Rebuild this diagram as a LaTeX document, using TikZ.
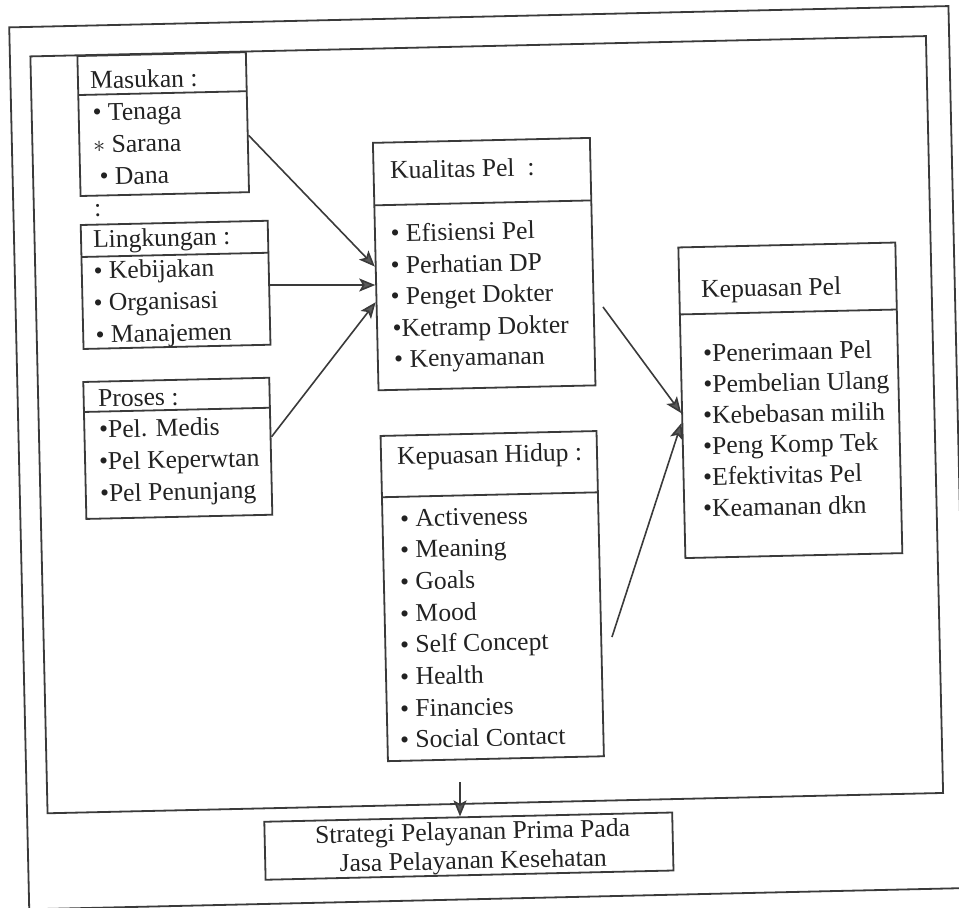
\documentclass[tikz,border=0pt]{standalone}
\usepackage{fontspec}
\setmainfont{Liberation Serif}
\usetikzlibrary{calc,arrows.meta}
\definecolor{ink}{HTML}{222222}
\definecolor{rulec}{HTML}{3A3A3A}
\definecolor{headc}{HTML}{5A5A5A}
\begin{document}
\begin{tikzpicture}[x=0.5pt,y=-0.5pt,
  panel/.style={draw=rulec, line width=0.9pt, rectangle, inner sep=0pt},
  txt/.style={anchor=base west, inner sep=0pt, text=ink, font=\fontsize{12.8}{14.1}\selectfont},
  divider/.style={draw=rulec, line width=0.9pt},
  arr/.style={draw=rulec, line width=0.8pt, -{Stealth[length=8pt,width=6.5pt,inset=1.8pt,fill=headc]}}]
\useasboundingbox (0,0) rectangle (959,908);
\fill[white] (0,0) rectangle (959,908);
\begin{scope}[rotate around={1.3:(480,454)}, transform shape]
  % frames
  \node[panel, minimum width=469.75pt, minimum height=441.1pt] (outer) at (488.75,457.9) {};
  \node[panel, minimum width=447.9pt, minimum height=378.55pt] (inner) at (487.4,424.85) {};
  % boxes
  \node[panel, minimum width=84.25pt, minimum height=70pt] (masukan) at (170.75,117) {};
  \node[panel, minimum width=93.5pt, minimum height=62pt] (ling) at (179.5,278) {};
  \node[panel, minimum width=93pt, minimum height=68.5pt] (proses) at (178,441.5) {};
  \node[panel, minimum width=108.5pt, minimum height=123.75pt] (kual) at (488.5,264.25) {};
  \node[panel, minimum width=108.5pt, minimum height=155.35pt] (kpel) at (791.5,407.35) {};
  \node[panel, minimum width=108pt, minimum height=162.65pt] (hidup) at (489,596.35) {};
  \node[panel, minimum width=204pt, minimum height=29pt] (strategi) at (460,845.8) {};
  % dividers
  \draw[divider] (86.5,86) -- (255,86);
  \draw[divider] (86,248) -- (273,248);
  \draw[divider] (85,403) -- (271,403);
  \draw[divider] (380,203) -- (597,203);
  \draw[divider] (683,319) -- (900,319);
  \draw[divider] (381,495) -- (597,495);
  % Masukan
  \node[txt] (t1) at (98.3,80.1) {Masukan :};
  \node[txt] (t2) at (100.1,112.2) {• Tenaga};
  \node[txt] (t3) at (99.9,144.2) {$\ast$ Sarana};
  \node[txt] (t4) at (105.6,176.4) {• Dana};
  \node[txt] (t5) at (99.4,208.2) {:};
  % Lingkungan
  \node[txt] (t6) at (97.7,239.2) {Lingkungan :};
  \node[txt] (t7) at (97.5,270.3) {• Kebijakan};
  \node[txt] (t8) at (96.7,302.3) {• Organisasi};
  \node[txt] (t9) at (98,334.4) {• Manajemen};
  % Proses
  \node[txt] (t10) at (99.1,398.3) {Proses :};
  \node[txt] (t11) at (99.4,429.3) {•Pel. Medis};
  \node[txt] (t12) at (98.6,461.3) {•Pel Keperwtan};
  \node[txt] (t13) at (98.9,493.3) {•Pel Penunjang};
  % Kualitas
  \node[txt] (t14) at (396.2,177) {Kualitas Pel\hspace{0.25em} :};
  \node[txt] (t15) at (395.3,240) {• Efisiensi Pel};
  \node[txt] (t16) at (394.6,272) {• Perhatian DP};
  \node[txt] (t17) at (393.9,303) {• Penget Dokter};
  \node[txt] (t18) at (395.2,335) {•Ketramp Dokter};
  \node[txt] (t19) at (396,365.5) {• Kenyamanan};
  % Kepuasan Pel
  \node[txt] (t20) at (704.5,303) {Kepuasan Pel};
  \node[txt] (t21) at (705,367) {•Penerimaan Pel};
  \node[txt] (t22) at (704.5,398) {•Pembelian Ulang};
  \node[txt] (t23) at (703.7,429) {•Kebebasan milih};
  \node[txt] (t24) at (703,459.5) {•Peng Komp Tek};
  \node[txt] (t25) at (702.3,490.5) {•Efektivitas Pel};
  \node[txt] (t26) at (701.6,522) {•Keamanan dkn};
  % Kepuasan Hidup
  \node[txt] (t27) at (396.8,463.1) {Kepuasan Hidup :};
  \node[txt] (t28) at (398.3,525.2) {• Activeness};
  \node[txt] (t29) at (397.6,556.2) {• Meaning};
  \node[txt] (t30) at (396.9,588.2) {• Goals};
  \node[txt] (t31) at (396.2,620.2) {• Mood};
  \node[txt] (t32) at (395.5,651.2) {• Self Concept};
  \node[txt] (t33) at (394.8,683.2) {• Health};
  \node[txt] (t34) at (394,715.2) {• Financies};
  \node[txt] (t35) at (393.3,746.2) {• Social Contact};
  % Strategi
  \node[inner sep=0pt, text=ink, align=center, font=\fontsize{12.8}{14.5}\selectfont] (t36) at (464,848) {Strategi Pelayanan Prima Pada\\Jasa Pelayanan Kesehatan};
  % connectors
  \coordinate (k4s) at (606.3,309.8);
  \coordinate (k5s) at (607.8,640);
  \coordinate (k6s) at (452.6,781.5);
  \draw[arr] ($(masukan.north east)!0.593!(masukan.south east)$) -- (kual.west);
  \draw[arr] ($(ling.north east)!0.518!(ling.south east)$) -- ($(kual.north west)!0.574!(kual.south west)$);
  \draw[arr] ($(proses.north east)!0.433!(proses.south east)$) -- ($(kual.north west)!0.643!(kual.south west)$);
  \draw[arr] (k4s) -- ($(kpel.north west)!0.533!(kpel.south west)$);
  \draw[arr] (k5s) -- ($(kpel.north west)!0.565!(kpel.south west)$);
  \draw[arr] (k6s) -- ($(strategi.north west)!0.48!(strategi.north east)$);
\end{scope}
\end{tikzpicture}
\end{document}
